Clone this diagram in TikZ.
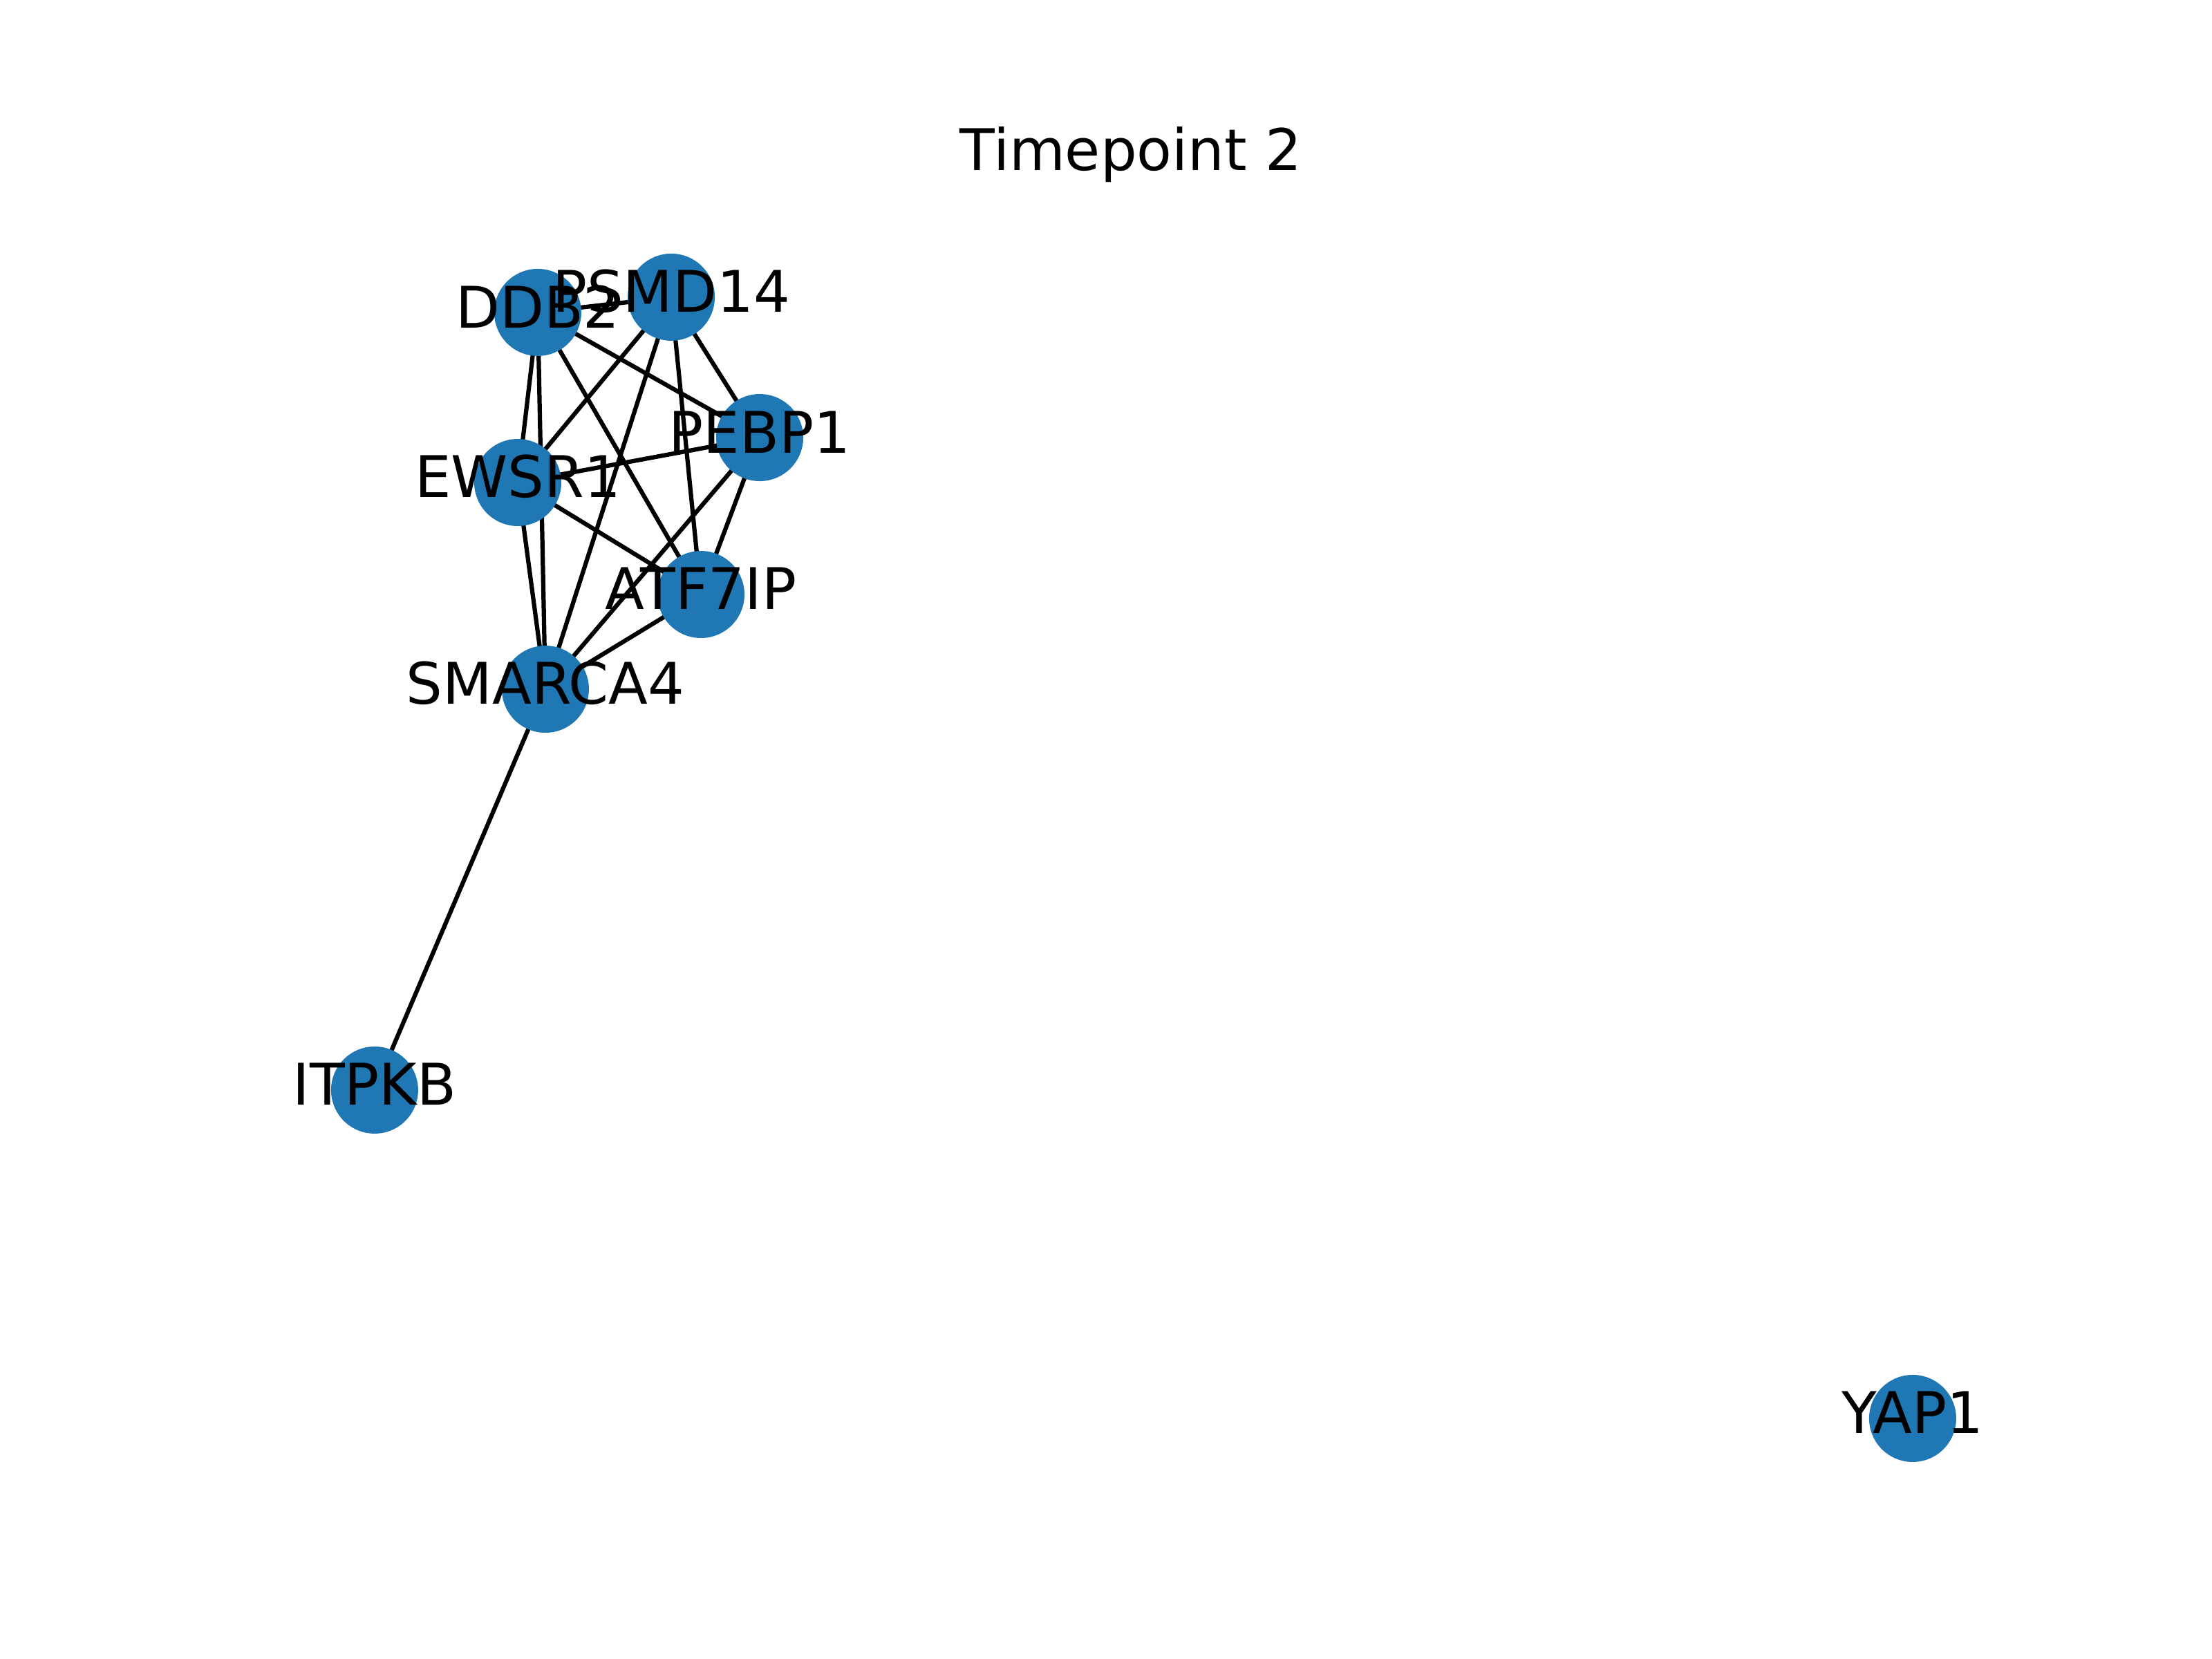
\documentclass[tikz,border=0pt]{standalone}
\usepackage{fontspec}
\setmainfont{DejaVu Sans}
\usetikzlibrary{backgrounds}
\definecolor{nxblue}{HTML}{1F77B4}

\begin{document}
\begin{tikzpicture}[
  every node/.style={font=\fontsize{12}{14}\selectfont},
  gnode/.style={circle, fill=nxblue, inner sep=0pt, minimum size=0.64cm},
  glabel/.style={inner sep=0pt, text=black, yshift=1.2pt},
  gedge/.style={draw=black, line width=0.9pt},
]
\useasboundingbox (0,0) rectangle (16.256,12.192);
\node[anchor=base] (title) at (8.31, 10.942) {Timepoint 2};

% nodes
\node[gnode] (ddb2) at (3.952, 9.896) {};
\node[gnode] (psmd14) at (4.933, 10.008) {};
\node[gnode] (pebp1) at (5.583, 8.976) {};
\node[gnode] (ewsr1) at (3.805, 8.646) {};
\node[gnode] (atf7ip) at (5.151, 7.823) {};
\node[gnode] (smarca4) at (4.008, 7.127) {};
\node[gnode] (itpkb) at (2.753, 4.181) {};
\node[gnode] (yap1) at (14.056, 1.768) {};

% labels
\node[glabel] (t-ddb2) at (ddb2.center) {DDB2};
\node[glabel] (t-psmd14) at (psmd14.center) {PSMD14};
\node[glabel] (t-pebp1) at (pebp1.center) {PEBP1};
\node[glabel] (t-ewsr1) at (ewsr1.center) {EWSR1};
\node[glabel] (t-atf7ip) at (atf7ip.center) {ATF7IP};
\node[glabel] (t-smarca4) at (smarca4.center) {SMARCA4};
\node[glabel] (t-itpkb) at (itpkb.center) {ITPKB};
\node[glabel] (t-yap1) at (yap1.center) {YAP1};

% edges
\begin{scope}[on background layer]
\fill[white] (0,0) rectangle (16.256,12.192);
\foreach \a/\b in {ddb2/psmd14, ddb2/pebp1, ddb2/ewsr1, ddb2/atf7ip, ddb2/smarca4,
                   psmd14/pebp1, psmd14/ewsr1, psmd14/atf7ip, psmd14/smarca4,
                   pebp1/ewsr1, pebp1/atf7ip, pebp1/smarca4,
                   ewsr1/atf7ip, ewsr1/smarca4,
                   atf7ip/smarca4, smarca4/itpkb}
  \draw[gedge] (\a.center) -- (\b.center);
\end{scope}
\end{tikzpicture}
\end{document}
